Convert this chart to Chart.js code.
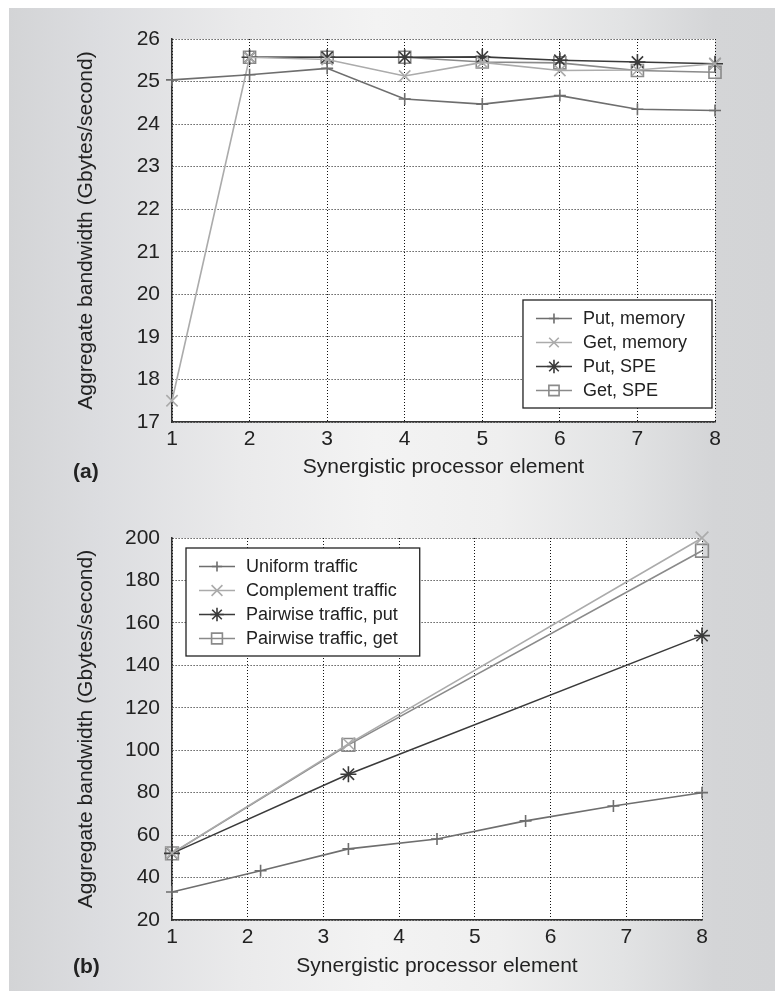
<!DOCTYPE html>
<html>
<head>
<meta charset="utf-8">
<script src="https://cdn.jsdelivr.net/npm/chart.js@4.4.0/dist/chart.umd.min.js"></script>
<style>
  html, body { margin: 0; padding: 0; background: #fff; }
  #panel {
    position: absolute; left: 9px; top: 8px; width: 766px; height: 983px;
    background: linear-gradient(to right, #d3d4d6 0%, #dcdde0 12%, #eaeaeb 30%, #f3f3f3 48%, #efefef 64%, #e2e3e4 80%, #d4d5d7 92%, #d3d4d6 100%);
  }
  .wrap { position: absolute; left: 0; width: 775px; }
  #wrapA { top: 0; height: 495px; }
  #wrapB { top: 495px; height: 498px; }
  .tag { position: absolute; left: 73px; font: bold 21px "Liberation Sans", Arial, sans-serif; color: #222; }
</style>
</head>
<body>
<div id="panel"></div>
<div class="wrap" id="wrapA"><canvas id="chartA" width="775" height="495"></canvas></div>
<div class="wrap" id="wrapB"><canvas id="chartB" width="775" height="498"></canvas></div>
<div class="tag" style="top:459px">(a)</div>
<div class="tag" style="top:954px">(b)</div>
<script>
// (a) one SPE stream per element
const speCount = [1, 2, 3, 4, 5, 6, 7, 8];
const putMemory = [25.04, 25.16, 25.31, 24.59, 24.47, 24.67, 24.35, 24.32];
const getMemory = [17.5, 25.57, 25.52, 25.13, 25.45, 25.26, 25.27, 25.42];
const putSpe = [null, 25.57, 25.57, 25.57, 25.58, 25.5, 25.46, 25.42];
const getSpe = [null, 25.57, 25.57, 25.57, 25.46, 25.44, 25.26, 25.22];

// (b) traffic patterns
const speUniform = [1, 2.17, 3.33, 4.5, 5.67, 6.83, 8];
const uniformTraffic = [33.2, 43.2, 53.5, 58.2, 66.7, 73.7, 80];
const speSampled = [1, 3.33, 8];
const complementTraffic = [51.5, 103, 200];
const pairwisePut = [51.4, 88.7, 154];
const pairwiseGet = [51.4, 102.5, 194];

Chart.defaults.font.family = '"Liberation Sans", Arial, sans-serif';
Chart.defaults.color = '#222';

const tickFont = { size: 21 };
const titleFont = { size: 21 };

function points(xs, ys) {
  return xs.map((x, i) => ({ x: x, y: ys[i] }));
}

function series(label, xs, ys, color, style, radius) {
  return {
    label: label,
    data: points(xs, ys),
    borderColor: color,
    borderWidth: 1.6,
    pointStyle: style,
    pointRadius: radius,
    pointBorderWidth: 1.6,
    pointBorderColor: color,
    pointBackgroundColor: 'rgba(0,0,0,0)',
    pointHoverRadius: radius,
    clip: false,
    spanGaps: false
  };
}

// white plot area
const plotBg = {
  id: 'plotBg',
  beforeDraw(chart) {
    const a = chart.chartArea, ctx = chart.ctx;
    ctx.save();
    ctx.fillStyle = '#fff';
    ctx.fillRect(a.left, a.top, a.right - a.left, a.bottom - a.top);
    ctx.restore();
  }
};

// boxed legend with line + marker samples
const sampleLegend = {
  id: 'sampleLegend',
  afterDraw(chart, args, opts) {
    const ctx = chart.ctx, area = chart.chartArea;
    const sets = chart.data.datasets;
    ctx.save();
    ctx.font = '18px "Liberation Sans", Arial, sans-serif';
    const textW = Math.max(...sets.map(d => ctx.measureText(d.label).width));
    const w = 60 + textW + opts.padRight, h = 108;
    const x0 = opts.corner === 'bottomRight' ? area.right - opts.dx - w : area.left + opts.dx;
    const y0 = opts.corner === 'bottomRight' ? area.bottom - opts.dy - h : area.top + opts.dy;
    ctx.fillStyle = '#fff';
    ctx.fillRect(x0, y0, w, h);
    ctx.strokeStyle = '#222';
    ctx.lineWidth = 1.3;
    ctx.strokeRect(x0, y0, w, h);
    sets.forEach((d, i) => {
      const y = y0 + 18.5 + i * 24;
      ctx.strokeStyle = d.borderColor;
      ctx.lineWidth = d.borderWidth;
      ctx.beginPath();
      ctx.moveTo(x0 + 13, y);
      ctx.lineTo(x0 + 49, y);
      ctx.stroke();
      ctx.lineWidth = d.pointBorderWidth;
      ctx.fillStyle = 'rgba(0,0,0,0)';
      Chart.helpers.drawPoint(ctx, { pointStyle: d.pointStyle, radius: d.pointRadius * 0.85, rotation: 0, borderWidth: d.pointBorderWidth }, x0 + 31, y);
      ctx.fillStyle = '#222';
      ctx.textAlign = 'left';
      ctx.textBaseline = 'middle';
      ctx.fillText(d.label, x0 + 60, y + 1);
    });
    ctx.restore();
  }
};

function axes(yMin, yMax, yStep, xTitlePad) {
  const grid = { color: '#111', lineWidth: 1, drawTicks: false };
  const border = { display: true, color: '#333', width: 1.6, dash: [1, 2] };
  return {
    x: {
      type: 'linear', min: 1, max: 8,
      ticks: { stepSize: 1, padding: 5, font: tickFont, color: '#222' },
      grid: grid, border: border,
      title: { display: true, text: 'Synergistic processor element', font: titleFont, color: '#222', padding: { top: 0, bottom: xTitlePad } },
      afterFit(s) { s.height = 73; }
    },
    y: {
      type: 'linear', min: yMin, max: yMax,
      ticks: { stepSize: yStep, padding: 12, font: tickFont, color: '#222' },
      grid: grid, border: border,
      title: { display: true, text: 'Aggregate bandwidth (Gbytes/second)', font: titleFont, color: '#222', padding: { top: 74, bottom: 0 } },
      afterFit(s) { s.width = 172; }
    }
  };
}

new Chart(document.getElementById('chartA'), {
  type: 'line',
  data: {
    datasets: [
      series('Put, memory', speCount, putMemory, '#6e6e6e', 'cross', 6),
      series('Get, memory', speCount, getMemory, '#ababab', 'crossRot', 8),
      series('Put, SPE', speCount, putSpe, '#3a3a3a', 'star', 8),
      series('Get, SPE', speCount, getSpe, '#8a8a8a', 'rect', 8.5)
    ]
  },
  options: {
    responsive: false,
    animation: false,
    layout: { padding: { left: 0, top: 39, right: 60, bottom: 0 } },
    scales: axes(17, 26, 1, 15),
    plugins: {
      legend: { display: false },
      tooltip: { enabled: false },
      sampleLegend: { corner: 'bottomRight', dx: 3, dy: 14, padRight: 25 }
    }
  },
  plugins: [plotBg, sampleLegend]
});

new Chart(document.getElementById('chartB'), {
  type: 'line',
  data: {
    datasets: [
      series('Uniform traffic', speUniform, uniformTraffic, '#6e6e6e', 'cross', 6),
      series('Complement traffic', speSampled, complementTraffic, '#ababab', 'crossRot', 9),
      series('Pairwise traffic, put', speSampled, pairwisePut, '#3a3a3a', 'star', 8),
      series('Pairwise traffic, get', speSampled, pairwiseGet, '#8a8a8a', 'rect', 9)
    ]
  },
  options: {
    responsive: false,
    animation: false,
    layout: { padding: { left: 0, top: 43, right: 73, bottom: 0 } },
    scales: axes(20, 200, 20, 14),
    plugins: {
      legend: { display: false },
      tooltip: { enabled: false },
      sampleLegend: { corner: 'topLeft', dx: 14, dy: 10, padRight: 22 }
    }
  },
  plugins: [plotBg, sampleLegend]
});
</script>
</body>
</html>
